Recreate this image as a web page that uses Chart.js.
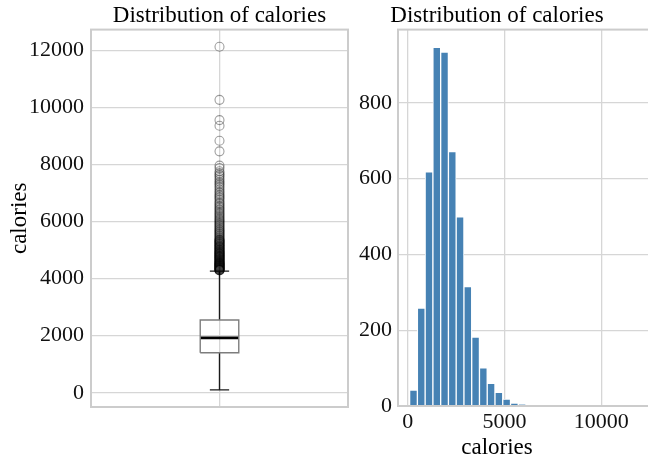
<!DOCTYPE html>
<html><head><meta charset="utf-8">
<script src="https://cdn.jsdelivr.net/npm/chart.js@4.4.0/dist/chart.umd.min.js"></script>
<style>
html,body{margin:0;padding:0;background:#fff;overflow:hidden;width:648px;height:459px;}
#c1{position:absolute;left:0;top:0;}
#c2{position:absolute;left:340px;top:0;}
</style></head><body>
<canvas id="c1" width="360" height="459"></canvas>
<canvas id="c2" width="350" height="459"></canvas>
<script>
// ---- data ----
const titleText = 'Distribution of calories';
const axisLabel = 'calories';
// box plot summary (calories)
const boxQ1 = 1400;
const boxMedian = 1920;
const boxQ3 = 2550;
const whiskerLow = 100;
const whiskerHigh = 4260;
const outliers = [12122, 10262, 9553, 9354, 8830, 8457, 7958, 7870, 7760, 7700, 7640, 7590, 7520,
  7460, 7400, 7350, 7300, 7240, 7180, 7120, 7060, 7010, 6950, 6900, 6860, 6810, 6760, 6700,
  6650, 6610, 6560, 6520, 6470, 6430, 6390, 6340, 6300, 6260, 6220, 6180, 6140, 6100, 6060,
  6030, 5990, 5950, 5920, 5880, 5850, 5810, 5780, 5740, 5710, 5680, 5650, 5620, 5590, 5560,
  5530, 5500, 5470, 5440, 5410, 5380, 5360, 5330, 5300, 5280, 5250, 5220, 5200, 5170, 5150,
  5120, 5100, 5070, 5050, 5020, 5000, 4980, 4950, 4930, 4910, 4890, 4870, 4850, 4830, 4810,
  4790, 4770, 4750, 4730, 4710, 4690, 4670, 4650, 4630, 4610, 4590, 4570, 4550, 4530, 4510,
  4490, 4470, 4450, 4430, 4410, 4390, 4370, 4350, 4330, 4310, 4300, 4290, 4285, 4295, 4320,
  4340, 4360, 4380, 4400, 4420, 4440, 4460, 4480, 4500, 4520, 4540, 4560, 4600, 4640, 4680,
  4720, 4760, 4800, 4840, 4880, 4920, 4960, 5010, 5060, 5110, 5160, 5210, 5260, 5310, 5350];
// histogram (30 bins between min and max)
const histMin = 100;
const histMax = 12122;
const histCounts = [42, 258, 618, 946, 934, 671, 499, 315, 182, 101, 60, 36, 18, 8, 4,
  2, 1, 1, 1, 2, 0, 1, 1, 0, 0, 1, 0, 0, 0, 1];
const boxTicks = [0, 2000, 4000, 6000, 8000, 10000, 12000];
const histXTicks = [0, 5000, 10000];
const histYTicks = [0, 200, 400, 600, 800];

// ---- styling ----
const FONT = 'Liberation Serif';
const GRID = '#d6d6d6';
const framePlugin = {
  id: 'frame',
  afterDatasetsDraw(chart) {
    const {ctx, chartArea: a} = chart;
    ctx.save();
    ctx.strokeStyle = '#cccccc';
    ctx.lineWidth = 2;
    ctx.strokeRect(a.left, a.top, a.right - a.left, a.bottom - a.top);
    ctx.restore();
  }
};
const plain = v => String(v);

// ---- box plot ----
const pos = 1, bw = 0.15, cw = 0.075;
const line = (pts, color, width) => ({
  data: pts, showLine: true, borderColor: color, borderWidth: width,
  pointRadius: 0, fill: false, order: 2
});
new Chart(document.getElementById('c1'), {
  type: 'scatter',
  data: {
    datasets: [
      {data: outliers.map(v => ({x: pos, y: v})), pointRadius: 4.5, pointBorderWidth: 1.1,
       pointBorderColor: 'rgba(0,0,0,0.38)', pointBackgroundColor: 'rgba(0,0,0,0)', order: 1},
      line([{x: pos - bw/2, y: boxQ1}, {x: pos + bw/2, y: boxQ1}, {x: pos + bw/2, y: boxQ3},
            {x: pos - bw/2, y: boxQ3}, {x: pos - bw/2, y: boxQ1}], '#7d7d7d', 1.4),
      line([{x: pos - bw/2, y: boxMedian}, {x: pos + bw/2, y: boxMedian}], '#000', 2.8),
      line([{x: pos, y: boxQ1}, {x: pos, y: whiskerLow}], '#1a1a1a', 1.4),
      line([{x: pos, y: boxQ3}, {x: pos, y: whiskerHigh}], '#1a1a1a', 1.4),
      line([{x: pos - cw/2, y: whiskerLow}, {x: pos + cw/2, y: whiskerLow}], '#1a1a1a', 1.4),
      line([{x: pos - cw/2, y: whiskerHigh}, {x: pos + cw/2, y: whiskerHigh}], '#1a1a1a', 1.4)
    ]
  },
  options: {
    responsive: false, animation: false, devicePixelRatio: 1,
    layout: {padding: {right: 12}},
    plugins: {
      legend: {display: false}, tooltip: {enabled: false},
      title: {display: true, text: titleText, fullSize: false, color: '#000',
              font: {family: FONT, size: 23, weight: 'normal'}, padding: {top: 2, bottom: 0}}
    },
    scales: {
      x: {type: 'linear', min: 0.5, max: 1.5,
          ticks: {display: false, stepSize: 1, includeBounds: false},
          grid: {color: GRID, lineWidth: 1.3, drawTicks: false},
          border: {display: false},
          afterFit(s) { s.height = 52; }},
      y: {type: 'linear', min: -500, max: 12723,
          afterBuildTicks(s) { s.ticks = boxTicks.map(v => ({value: v})); },
          ticks: {callback: plain, color: '#111', padding: 7,
                  font: {family: FONT, size: 22}},
          grid: {color: GRID, lineWidth: 1.3, drawTicks: false},
          border: {display: false},
          title: {display: true, text: axisLabel, color: '#000',
                  font: {family: FONT, size: 23}, padding: {top: 6, bottom: 0}},
          afterFit(s) { s.width = 91; }}
    }
  },
  plugins: [framePlugin]
});

// ---- histogram ----
const binW = (histMax - histMin) / histCounts.length;
const histData = histCounts.map((c, i) => ({x: histMin + (i + 0.5) * binW, y: c}));
new Chart(document.getElementById('c2'), {
  type: 'bar',
  data: {
    datasets: [{data: histData, backgroundColor: '#4682b4', borderColor: '#ffffff',
                borderWidth: 1, barPercentage: 1, categoryPercentage: 1}]
  },
  options: {
    responsive: false, animation: false, devicePixelRatio: 1,
    layout: {padding: {right: 36}},
    plugins: {
      legend: {display: false}, tooltip: {enabled: false},
      title: {display: true, text: titleText, color: '#000',
              font: {family: FONT, size: 23, weight: 'normal'}, padding: {top: 2, bottom: 0}},
      subtitle: {display: true, text: axisLabel, position: 'bottom', color: '#000',
                 font: {family: FONT, size: 23, lineHeight: 1}, padding: {top: 6, bottom: 0}}
    },
    scales: {
      x: {type: 'linear', min: -500, max: 12720, offset: false,
          afterBuildTicks(s) { s.ticks = histXTicks.map(v => ({value: v})); },
          ticks: {callback: plain, color: '#111', padding: 3, maxRotation: 0,
                  font: {family: FONT, size: 22}},
          grid: {color: GRID, lineWidth: 1.3, drawTicks: false, offset: false},
          border: {display: false},
          afterFit(s) { s.height = 24; }},
      y: {type: 'linear', min: 0, max: 993,
          afterBuildTicks(s) { s.ticks = histYTicks.map(v => ({value: v})); },
          ticks: {callback: plain, color: '#111', padding: 6,
                  font: {family: FONT, size: 22}},
          grid: {color: GRID, lineWidth: 1.3, drawTicks: false},
          border: {display: false},
          afterFit(s) { s.width = 58; }}
    }
  },
  plugins: [framePlugin]
});
</script></body></html>
